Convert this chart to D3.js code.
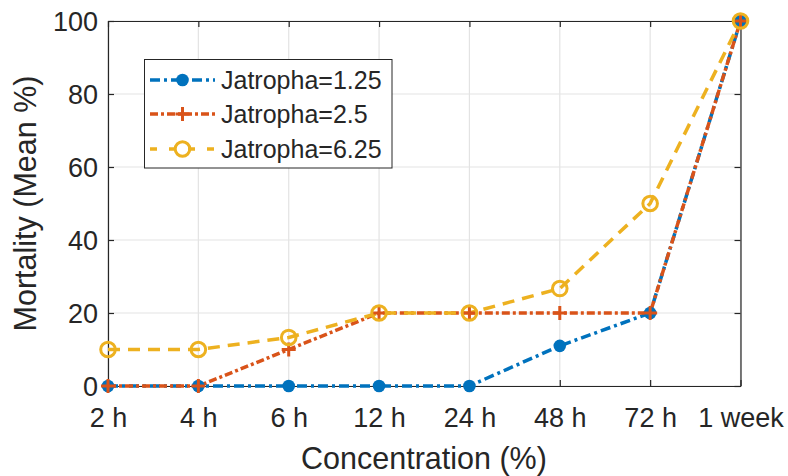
<!DOCTYPE html>
<html><head><meta charset="utf-8">
<script src="https://cdn.jsdelivr.net/npm/d3@7"></script>
<style>body{margin:0;background:#fff}svg{display:block}text{font-family:"Liberation Sans",Arial,Helvetica,sans-serif;fill:#262626}</style>
</head><body><svg id="c" width="788" height="476"></svg>
<script>
const categories = ["2 h","4 h","6 h","12 h","24 h","48 h","72 h","1 week"];
const jatropha125 = [0,0,0,0,0,11,20,100];
const jatropha25 = [0,0,10,20,20,20,20,100];
const jatropha625 = [10,10,13.3,20,20,26.7,50,100];
const yTicks = [0,20,40,60,80,100];
const seriesNames = ["Jatropha=1.25","Jatropha=2.5","Jatropha=6.25"];

const svg = d3.select("#c");
const L=108,R=740.5,T=21,B=386;
const x = d3.scalePoint().domain(categories).range([L,R]);
const y = d3.scaleLinear().domain([0,100]).range([B,T]);

// grid
const g = svg.append("g");
g.selectAll(".gx").data(categories).enter().append("line")
 .attr("x1",d=>x(d)).attr("x2",d=>x(d)).attr("y1",T).attr("y2",B)
 .attr("stroke","#e3e3e3").attr("stroke-width",1.2);
g.selectAll(".gy").data(yTicks).enter().append("line")
 .attr("x1",L).attr("x2",R).attr("y1",d=>y(d)).attr("y2",d=>y(d))
 .attr("stroke","#e3e3e3").attr("stroke-width",1.2);

// axes
const xa = svg.append("g").attr("transform",`translate(0,${B})`)
 .call(d3.axisBottom(x).tickSizeInner(-6).tickSizeOuter(0).tickPadding(22));
const xt = svg.append("g").attr("transform",`translate(0,${T})`)
 .call(d3.axisTop(x).tickSizeInner(-6).tickSizeOuter(0).tickFormat(""));
const ya = svg.append("g").attr("transform",`translate(${L},0)`)
 .call(d3.axisLeft(y).tickValues(yTicks).tickSizeInner(-6).tickSizeOuter(0).tickPadding(10));
const yr = svg.append("g").attr("transform",`translate(${R},0)`)
 .call(d3.axisRight(y).tickValues(yTicks).tickSizeInner(-6).tickSizeOuter(0).tickFormat(""));
[xa,xt,ya,yr].forEach(a=>{a.selectAll("path,line").attr("stroke","#262626").attr("stroke-width",1.2);a.select(".domain").attr("stroke","#262626");});
xa.selectAll("text").attr("font-size",27).attr("fill","#262626").attr("font-family","Liberation Sans, Arial, sans-serif");
ya.selectAll("text").attr("font-size",27).attr("fill","#262626").attr("font-family","Liberation Sans, Arial, sans-serif").attr("dy","0.35em");

svg.append("text").attr("x",424).attr("y",469).attr("text-anchor","middle").attr("font-size",30.5).text("Concentration (%)");
svg.append("text").attr("transform",`translate(35.5,${(T+B)/2}) rotate(-90)`).attr("text-anchor","middle").attr("font-size",30.5).text("Mortality (Mean %)");

const cols=["#0072BD","#D95319","#EDB120"];
const dashes=["10,4,3,4","8,3,3,3","12,8"];
const data=[jatropha125,jatropha25,jatropha625];
const line=d3.line().x((d,i)=>x(categories[i])).y(d=>y(d));

function marker(sel,k,cx,cy){
  if(k===0) sel.append("circle").attr("cx",cx).attr("cy",cy).attr("r",6.3).attr("fill",cols[0]);
  else if(k===1){ sel.append("path").attr("d",`M${cx-7},${cy}H${cx+7}M${cx},${cy-7}V${cy+7}`).attr("stroke",cols[1]).attr("stroke-width",3); }
  else sel.append("circle").attr("cx",cx).attr("cy",cy).attr("r",7.3).attr("fill","none").attr("stroke",cols[2]).attr("stroke-width",3);
}
data.forEach((vals,k)=>{
  svg.append("path").datum(vals).attr("d",line).attr("fill","none").attr("stroke",cols[k])
    .attr("stroke-width",3.5).attr("stroke-dasharray",dashes[k]);
});
data.forEach((vals,k)=>{
  const mg=svg.append("g");
  vals.forEach((v,i)=>marker(mg,k,x(categories[i]),y(v)));
});

// legend
const lg=svg.append("g");
lg.append("rect").attr("x",144.5).attr("y",59.5).attr("width",247.5).attr("height",108.5).attr("fill","#fff").attr("stroke","#262626").attr("stroke-width",1);
const rows=[80,114,149];
seriesNames.forEach((n,k)=>{
  lg.append("line").attr("x1",150).attr("x2",215).attr("y1",rows[k]).attr("y2",rows[k])
   .attr("stroke",cols[k]).attr("stroke-width",3.5).attr("stroke-dasharray",k===2?"7,12":dashes[k]);
  marker(lg,k,182.5,rows[k]);
  lg.append("text").attr("x",221).attr("y",rows[k]).attr("dy","0.35em").attr("font-size",25).text(n);
});
</script></body></html>
